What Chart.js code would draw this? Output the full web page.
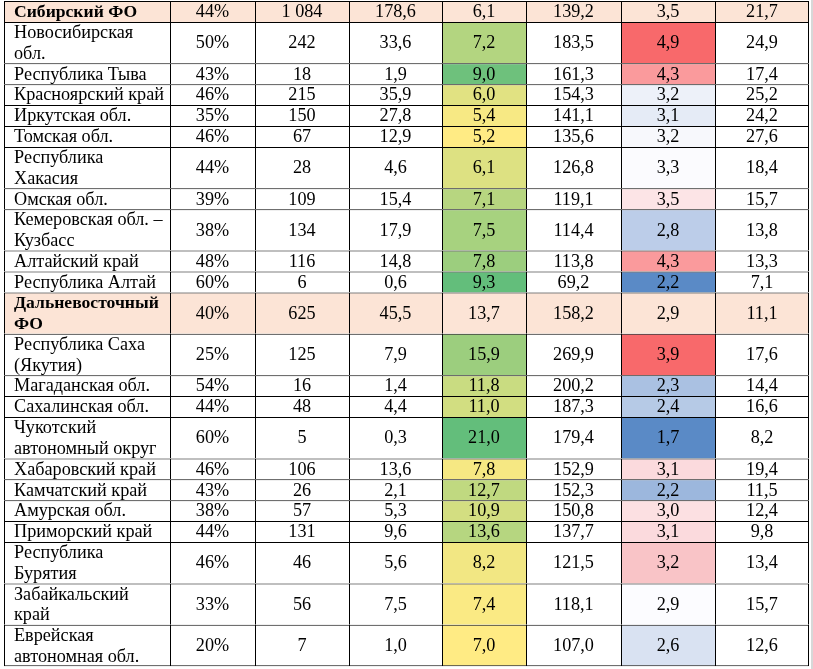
<!DOCTYPE html>
<html>
<head>
<meta charset="utf-8">
<script src="https://cdn.jsdelivr.net/npm/chart.js@4.4.0/dist/chart.umd.min.js"></script>
<style>
html,body{margin:0;padding:0;background:#fff;}
#wrap{width:813px;height:669px;position:relative;}
</style>
</head>
<body>
<div id="wrap"><canvas id="c" width="813" height="669"></canvas></div>
<script>
// ---------- DATA ----------
const regions = [
  "Сибирский ФО",
  "Новосибирская\nобл.",
  "Республика Тыва",
  "Красноярский край",
  "Иркутская обл.",
  "Томская обл.",
  "Республика\nХакасия",
  "Омская обл.",
  "Кемеровская обл. –\nКузбасс",
  "Алтайский край",
  "Республика Алтай",
  "Дальневосточный\nФО",
  "Республика Саха\n(Якутия)",
  "Магаданская обл.",
  "Сахалинская обл.",
  "Чукотский\nавтономный округ",
  "Хабаровский край",
  "Камчатский край",
  "Амурская обл.",
  "Приморский край",
  "Республика\nБурятия",
  "Забайкальский\nкрай",
  "Еврейская\nавтономная обл."
];
const districtRows = [0, 11];

const sharePct   = [44,50,43,46,35,46,44,39,38,48,60,40,25,54,44,60,46,43,38,44,46,33,20];
const countVals  = [1084,242,18,215,150,67,28,109,134,116,6,625,125,16,48,5,106,26,57,131,46,56,7];
const volumeVals = [178.6,33.6,1.9,35.9,27.8,12.9,4.6,15.4,17.9,14.8,0.6,45.5,7.9,1.4,4.4,0.3,13.6,2.1,5.3,9.6,5.6,7.5,1.0];
const ratioVals  = [6.1,7.2,9.0,6.0,5.4,5.2,6.1,7.1,7.5,7.8,9.3,13.7,15.9,11.8,11.0,21.0,7.8,12.7,10.9,13.6,8.2,7.4,7.0];
const indexVals  = [139.2,183.5,161.3,154.3,141.1,135.6,126.8,119.1,114.4,113.8,69.2,158.2,269.9,200.2,187.3,179.4,152.9,152.3,150.8,137.7,121.5,118.1,107.0];
const rateVals   = [3.5,4.9,4.3,3.2,3.1,3.2,3.3,3.5,2.8,4.3,2.2,2.9,3.9,2.3,2.4,1.7,3.1,2.2,3.0,3.1,3.2,2.9,2.6];
const lastVals   = [21.7,24.9,17.4,25.2,24.2,27.6,18.4,15.7,13.8,13.3,7.1,11.1,17.6,14.4,16.6,8.2,19.4,11.5,12.4,9.8,13.4,15.7,12.6];

// ---------- STYLE ----------
const PEACH = "#FCE4D6";
const WHITE = "#FFFFFF";
const ratioColors = [PEACH,"#B3D580","#6EC17C","#E1E282","#F7E984","#FFEB84","#DDE182","#B7D680","#A7D27F","#9CCE7E","#63BE7B",
  PEACH,"#9CCE7E","#C9DC81","#D2DE81","#63BE7B","#F6E883","#C0D980","#D3DE81","#B6D680","#F2E783","#FAEA84","#FFEB84"];
const rateColors = [PEACH,"#F8696B","#FA9A9C","#EDF1F9","#E5EBF6","#F7F8FC","#FBFBFE","#FCE4E6","#BCCDE9","#FA9A9C","#5A8AC6",
  PEACH,"#F8696B","#AAC1E2","#B6CAE6","#5A8AC6","#FBDADD","#9CB7DD","#FCE0E2","#FBDADD","#F9C4C7","#FCFCFF","#D9E2F2"];

// ---------- LAYOUT ----------
const COL_EDGES = [4,170,255,349,442,526,621,715,809];
const TABLE_TOP = 1;
const SINGLE_H = 20.9, DOUBLE_H = 41.4;
const LINE_STEP = 20.7;
const FONT_SIZE = 18.2, BOLD_SIZE = 17.6;
const FONT_FAMILY = "'Liberation Serif','Times New Roman',serif";

// ---------- helpers ----------
const fmt1 = v => v.toFixed(1).replace('.', ',');
const fmtInt = v => String(v).replace(/\B(?=(\d{3})+(?!\d))/g, ' ');
const fmtPct = v => v + '%';

const nRows = regions.length;
const rowLines = regions.map(r => r.split('\n').length);
const rowEdges = [TABLE_TOP];
rowLines.forEach(n => rowEdges.push(rowEdges[rowEdges.length-1] + (n === 1 ? SINGLE_H : DOUBLE_H)));

const columns = [
  {texts: regions, align: 'left', colors: null},
  {texts: sharePct.map(fmtPct), align: 'center', colors: null},
  {texts: countVals.map(fmtInt), align: 'center', colors: null},
  {texts: volumeVals.map(fmt1), align: 'center', colors: null},
  {texts: ratioVals.map(fmt1), align: 'center', colors: ratioColors},
  {texts: indexVals.map(fmt1), align: 'center', colors: null},
  {texts: rateVals.map(fmt1), align: 'center', colors: rateColors},
  {texts: lastVals.map(fmt1), align: 'center', colors: null}
];

const datasets = columns.map((col, ci) => {
  const x0 = COL_EDGES[ci], x1 = COL_EDGES[ci+1];
  return {
    label: 'col' + ci,
    data: regions.map((_, ri) => ({x: (x0 + x1) / 2, y: [rowEdges[ri], rowEdges[ri+1]]})),
    texts: col.texts,
    align: col.align,
    barThickness: x1 - x0,
    stack: 'table',
    backgroundColor: regions.map((_, ri) => col.colors ? col.colors[ri] : (districtRows.includes(ri) ? PEACH : WHITE)),
    borderColor: '#000000',
    borderWidth: ctx => ({
      left: 1, top: 1,
      right: ctx.datasetIndex === columns.length - 1 ? 1 : 0,
      bottom: ctx.dataIndex === nRows - 1 ? 1 : 0
    }),
    borderSkipped: false,
    inflateAmount: 0
  };
});

const textPlugin = {
  id: 'cellText',
  beforeDraw(chart) {
    const c = chart.ctx;
    c.save();
    c.fillStyle = '#ffffff';
    c.fillRect(0, 0, chart.width, chart.height);
    c.fillStyle = '#d8d8d8';
    c.fillRect(811, 0, 2, chart.height);
    c.restore();
  },
  afterDatasetsDraw(chart) {
    const c = chart.ctx;
    c.save();
    c.fillStyle = '#000000';
    c.textBaseline = 'middle';
    chart.data.datasets.forEach((ds, di) => {
      const meta = chart.getDatasetMeta(di);
      meta.data.forEach((el, ri) => {
        const p = el.getProps(['x','y','base','width'], true);
        const top = Math.min(p.y, p.base), bot = Math.max(p.y, p.base);
        const cy = (top + bot) / 2;
        const lines = ds.texts[ri].split('\n');
        const bold = di === 0 && districtRows.includes(ri);
        c.font = bold ? ('bold ' + BOLD_SIZE + 'px ' + FONT_FAMILY) : (FONT_SIZE + 'px ' + FONT_FAMILY);
        lines.forEach((ln, li) => {
          const ly = cy + (li - (lines.length - 1) / 2) * LINE_STEP + 1;
          if (ds.align === 'left') {
            c.textAlign = 'left';
            c.fillText(ln, p.x - p.width / 2 + 10, ly);
          } else {
            c.textAlign = 'center';
            c.fillText(ln, p.x, ly);
          }
        });
      });
    });
    c.restore();
  }
};

new Chart(document.getElementById('c'), {
  type: 'bar',
  data: {datasets},
  options: {
    responsive: false,
    animation: false,
    devicePixelRatio: 1,
    layout: {padding: 0},
    plugins: {legend: {display: false}, tooltip: {enabled: false}},
    scales: {
      x: {type: 'linear', min: 0, max: 813, display: false, offset: false},
      y: {type: 'linear', min: 0, max: 669, reverse: true, display: false, stacked: false}
    }
  },
  plugins: [textPlugin]
});
</script>
</body>
</html>
